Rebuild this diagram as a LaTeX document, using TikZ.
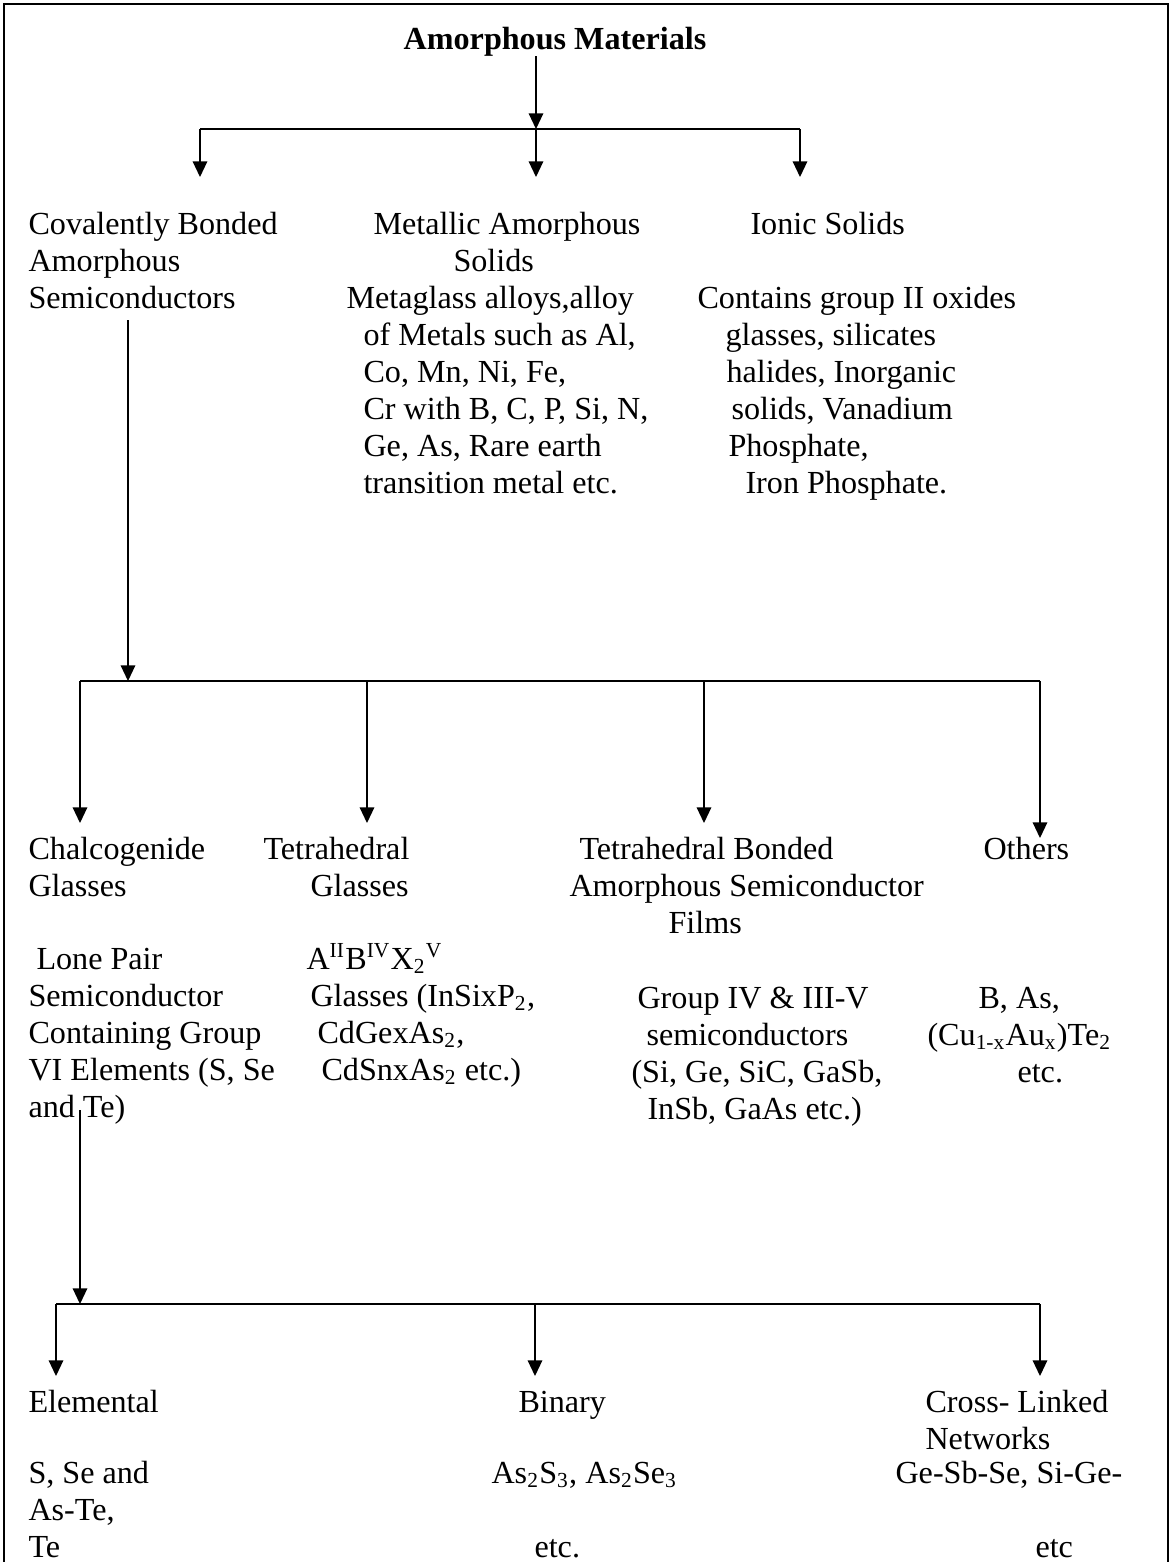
\documentclass[tikz,border=0pt]{standalone}
\usepackage{fontspec}
\setmainfont{Liberation Serif}
\usetikzlibrary{arrows.meta}
\newlength{\pxu}
\setlength{\pxu}{0.3734pt}
\newcommand{\indpx}[1]{\hspace*{#1\pxu}}
\begin{document}
\begin{tikzpicture}[x=0.3734pt,y=-0.3734pt,
  txt/.style={anchor=base west,align=left,inner sep=0pt,font=\fontsize{12}{13.8}\selectfont},
  arr/.style={line width=0.5pt,-{Triangle[length=5.8pt,width=5.4pt]}},
  bar/.style={line width=0.5pt}]
\useasboundingbox (0,0) rectangle (1172,1562);
\draw[line width=0.8pt] (4,1562) -- (4,4) -- (1168,4) -- (1168,1562);

\node[txt,anchor=base,font=\fontsize{12}{13.8}\selectfont\bfseries] (amorph) at (555,49) {Amorphous Materials};

% first level (base = last line)
\coordinate (b1l) at (200,129);
\coordinate (b1m) at (536,129);
\coordinate (b1r) at (800,129);
\draw[arr] (b1m |- amorph.south) -- (b1m);
\draw[bar] (b1l) -- (b1r);
\draw[arr] (b1l) -- ++(0,48);
\draw[arr] (b1m) -- ++(0,48);
\draw[arr] (b1r) -- ++(0,48);

\node[txt] (cov) at (28,308) {Covalently Bonded\\Amorphous\\Semiconductors};
\node[txt] (met) at (346,271) {\indpx{27}Metallic Amorphous\\\indpx{107}Solids};
\node[txt] (metx) at (346,493) {Metaglass alloys,alloy\\
  \indpx{17}of Metals such as Al,\\
  \indpx{17}Co, Mn, Ni, Fe,\\
  \indpx{17}Cr with B, C, P, Si, N,\\
  \indpx{17}Ge, As, Rare earth\\
  \indpx{17}transition metal etc.};
\node[txt] (ion) at (750,234) {Ionic Solids};
\node[txt] (ionx) at (697,493) {Contains group II oxides\\
  \indpx{28}glasses, silicates\\
  \indpx{29}halides, Inorganic\\
  \indpx{34}solids, Vanadium\\
  \indpx{31}Phosphate,\\
  \indpx{48}Iron Phosphate.};

% second level
\coordinate (c1) at (128,320);
\coordinate (b2c) at (128,681);
\coordinate (b2l) at (80,681);
\coordinate (b2a) at (367,681);
\coordinate (b2b) at (704,681);
\coordinate (b2r) at (1040,681);
\draw[arr] (c1) -- (b2c);
\draw[bar] (b2l) -- (b2r);
\draw[arr] (b2l) -- ++(0,142);
\draw[arr] (b2a) -- ++(0,142);
\draw[arr] (b2b) -- ++(0,142);
\draw[arr] (b2r) -- ++(0,157);

\node[txt] (chal) at (28,896) {Chalcogenide\\Glasses};
\node[txt] (chalx) at (28,1117) {\indpx{8}Lone Pair\\Semiconductor\\Containing Group\\VI Elements (S, Se\\and Te)};
\node[txt] (tetg) at (263,896) {Tetrahedral\\\indpx{47}Glasses};
\node[txt] (tetgx) at (306,1080) {A\textsuperscript{II}B\textsuperscript{IV}X\textsubscript{2}\textsuperscript{V}\\
  \indpx{4}Glasses (InSixP\textsubscript{2},\\
  \indpx{11}CdGexAs\textsubscript{2},\\
  \indpx{15}CdSnxAs\textsubscript{2} etc.)};
\node[txt] (tbf) at (569,933) {\indpx{10}Tetrahedral Bonded\\Amorphous Semiconductor\\\indpx{99}Films};
\node[txt] (tbfx) at (631,1119) {\indpx{6}Group IV \& III-V\\
  \indpx{15}semiconductors\\
  (Si, Ge, SiC, GaSb,\\
  \indpx{16}InSb, GaAs etc.)};
\node[txt] (oth) at (983,859) {Others};
\node[txt] (othx) at (927,1082) {\indpx{51}B, As,\\(Cu\textsubscript{1-x}Au\textsubscript{x})Te\textsubscript{2}\\\indpx{90}etc.};

% third level
\coordinate (c2) at (80,1110);
\coordinate (b3c) at (80,1304);
\coordinate (b3l) at (56,1304);
\coordinate (b3m) at (535,1304);
\coordinate (b3r) at (1040,1304);
\draw[arr] (c2) -- (b3c);
\draw[bar] (b3l) -- (b3r);
\draw[arr] (b3l) -- ++(0,72);
\draw[arr] (b3m) -- ++(0,72);
\draw[arr] (b3r) -- ++(0,72);

\node[txt] (elem) at (28,1412) {Elemental};
\node[txt] (elemx) at (28,1557) {S, Se and\\As-Te,\\Te};
\node[txt] (bin) at (518,1412) {Binary};
\node[txt] (binx) at (491,1557) {As\textsubscript{2}S\textsubscript{3}, As\textsubscript{2}Se\textsubscript{3}\\[\baselineskip]\indpx{43}etc.};
\node[txt] (cross) at (925,1449) {Cross- Linked\\Networks};
\node[txt] (crossx) at (895,1557) {Ge-Sb-Se, Si-Ge-\\[\baselineskip]\indpx{140}etc};
\end{tikzpicture}
\end{document}
